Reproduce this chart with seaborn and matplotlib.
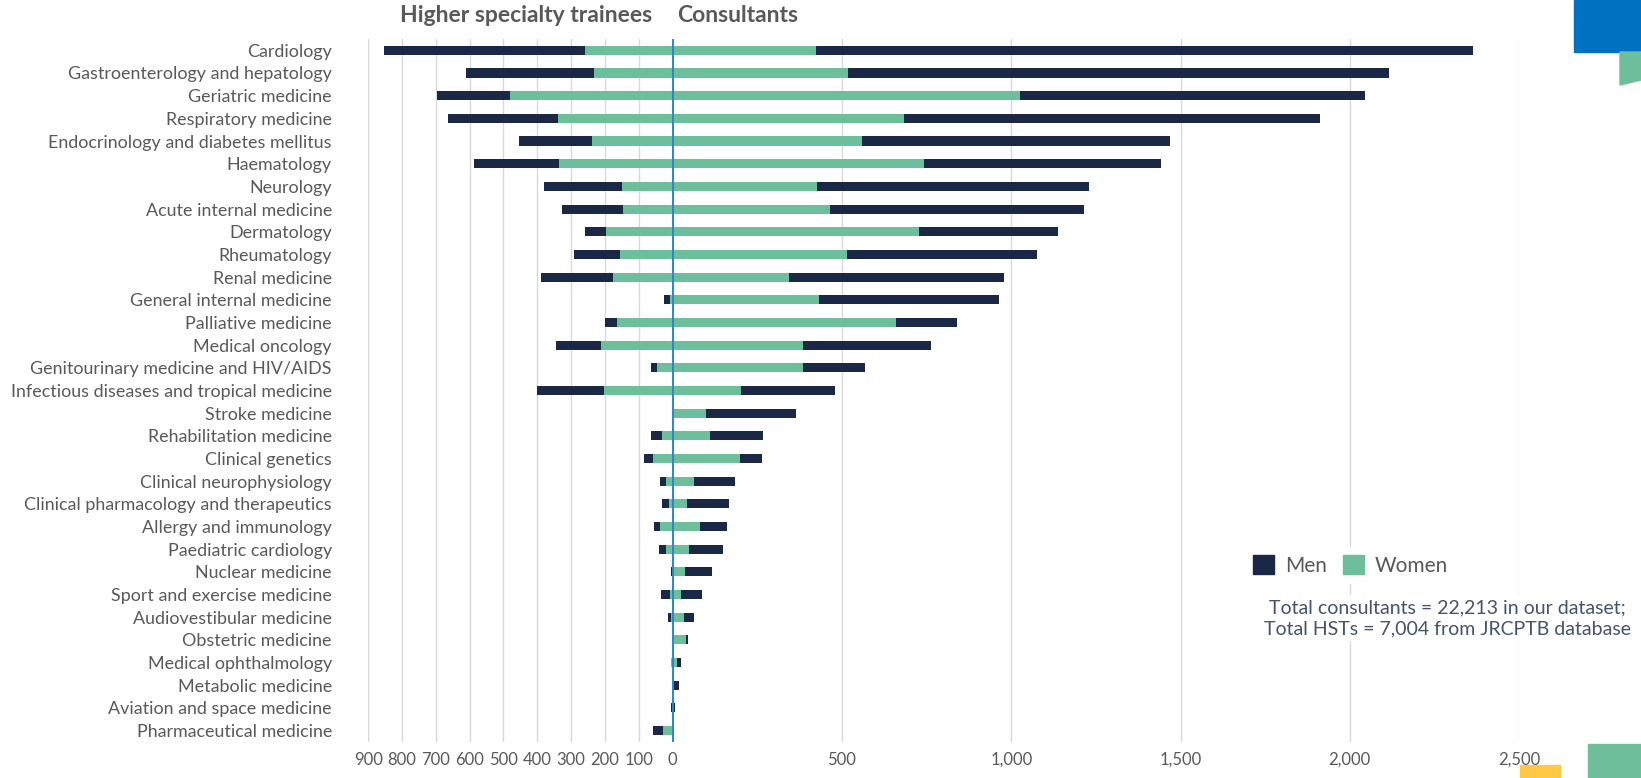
import numpy as np
import pandas as pd
import matplotlib.pyplot as plt
import seaborn as sns
from matplotlib.patches import Patch, Rectangle, Polygon

specialties = ["Cardiology", "Gastroenterology and hepatology", "Geriatric medicine",
               "Respiratory medicine", "Endocrinology and diabetes mellitus", "Haematology",
               "Neurology", "Acute internal medicine", "Dermatology", "Rheumatology",
               "Renal medicine", "General internal medicine", "Palliative medicine",
               "Medical oncology", "Genitourinary medicine and HIV/AIDS",
               "Infectious diseases and tropical medicine", "Stroke medicine",
               "Rehabilitation medicine", "Clinical genetics", "Clinical neurophysiology",
               "Clinical pharmacology and therapeutics", "Allergy and immunology",
               "Paediatric cardiology", "Nuclear medicine", "Sport and exercise medicine",
               "Audiovestibular medicine", "Obstetric medicine", "Medical ophthalmology",
               "Metabolic medicine", "Aviation and space medicine", "Pharmaceutical medicine"]

# higher specialty trainees (drawn to the left)
hst_women = [258, 234, 482, 339, 240, 335, 151, 148, 197, 157, 177, 7, 165, 212, 48, 202,
             0, 32, 58, 20, 11, 39, 19, 0, 9, 5, 0, 5, 0, 0, 30]
hst_men = [594, 376, 215, 325, 213, 253, 229, 179, 63, 134, 213, 20, 34, 132, 16, 198,
           0, 31, 26, 17, 21, 17, 21, 4, 25, 9, 0, 1, 0, 6, 29]

# consultants (drawn to the right)
cons_women = [422, 519, 1025, 684, 558, 742, 426, 464, 727, 515, 343, 433, 658, 386, 385, 202,
              98, 110, 199, 63, 41, 81, 48, 37, 23, 34, 38, 12, 3, 0, 0]
cons_men = [1942, 1598, 1020, 1228, 910, 701, 803, 751, 410, 561, 635, 531, 183, 377, 183, 276,
            265, 157, 64, 122, 125, 78, 100, 79, 64, 28, 7, 11, 16, 6, 0]

hst_ticks = [900, 800, 700, 600, 500, 400, 300, 200, 100]
cons_ticks = [0, 500, 1000, 1500, 2000, 2500]

df = pd.DataFrame({"specialty": specialties,
                   "hst_women": hst_women, "hst_men": hst_men,
                   "cons_women": cons_women, "cons_men": cons_men})
df["hst_total"] = df["hst_women"] + df["hst_men"]
df["cons_total"] = df["cons_women"] + df["cons_men"]

navy = "#1B2845"
green = "#6CBF9A"
grey = "#595959"

sns.set_theme(style="white")
plt.rcParams["font.family"] = ["Lato", "DejaVu Sans"]

fig = plt.figure(figsize=(16.41, 7.78), dpi=100)
ax = fig.add_axes([0.2243, 0.0463, 0.7014, 0.9036])

# stacked bars: totals first, women on top, mirrored for trainees
for col, c, sign in [("hst_total", navy, -1), ("hst_women", green, -1),
                     ("cons_total", navy, 1), ("cons_women", green, 1)]:
    sns.barplot(x=sign * df[col], y=df["specialty"], color=c, width=0.4,
                saturation=1, linewidth=0, orient="h", ax=ax)

ax.axvline(0, color="#2E86C1", lw=1.4, zorder=5)
ax.set_xlim(-900, 2500)
ticks = [-t for t in hst_ticks] + cons_ticks
ax.set_xticks(ticks)
ax.set_xticklabels([f"{abs(t):,}" for t in ticks])
ax.xaxis.grid(True, color="#D9D9D9", lw=1)
ax.set_axisbelow(True)
ax.set_xlabel("")
ax.set_ylabel("")
sns.despine(ax=ax, left=True, bottom=True)
ax.tick_params(axis="y", length=0, pad=26, labelsize=12.9, labelcolor=grey)
ax.tick_params(axis="x", length=4, color="#D9D9D9", pad=3, labelsize=12, labelcolor=grey)

handles = [Patch(color=navy, label="Men"), Patch(color=green, label="Women")]
ax.legend(handles=handles, ncol=2, loc="center left", bbox_to_anchor=(0.762, 0.251),
          borderaxespad=0, frameon=True, facecolor="white", edgecolor="none",
          framealpha=1, fontsize=15, labelcolor=grey, handlelength=1.0, handleheight=1.0,
          handletextpad=0.5, columnspacing=0.8)

ax.text(0.9375, 0.176, "Total consultants = 22,213 in our dataset;\nTotal HSTs = 7,004 from JRCPTB database",
        transform=ax.transAxes, ha="center", va="center", multialignment="center",
        fontsize=14, color="#44546A", linespacing=1.24, clip_on=False,
        bbox=dict(facecolor="white", edgecolor="none", pad=3))

fig.text(652 / 1641, 1 - 16 / 778, "Higher specialty trainees", ha="right", va="center",
         fontsize=16.5, fontweight="bold", color=grey)
fig.text(677 / 1641, 1 - 16 / 778, "Consultants", ha="left", va="center",
         fontsize=16.5, fontweight="bold", color=grey)

# slide decorations
W, H = 1641, 778
fig.add_artist(Rectangle((1574 / W, 1 - 52 / H), 67 / W, 52 / H, transform=fig.transFigure,
                         color="#0070C0", zorder=3))
fig.add_artist(Polygon([(1620 / W, 1 - 52 / H), (1, 1 - 52 / H), (1, 1 - 80 / H),
                        (1620 / W, 1 - 85 / H)], closed=True, transform=fig.transFigure,
                       color=green, zorder=3))
fig.add_artist(Rectangle((1588 / W, 0), 53 / W, 34 / H, transform=fig.transFigure,
                         color=green, zorder=3))
fig.add_artist(Rectangle((1520 / W, 0), 40 / W, 13 / H, transform=fig.transFigure,
                         color="#FFC845", zorder=-1))

fig.savefig("out.png", dpi=100)
